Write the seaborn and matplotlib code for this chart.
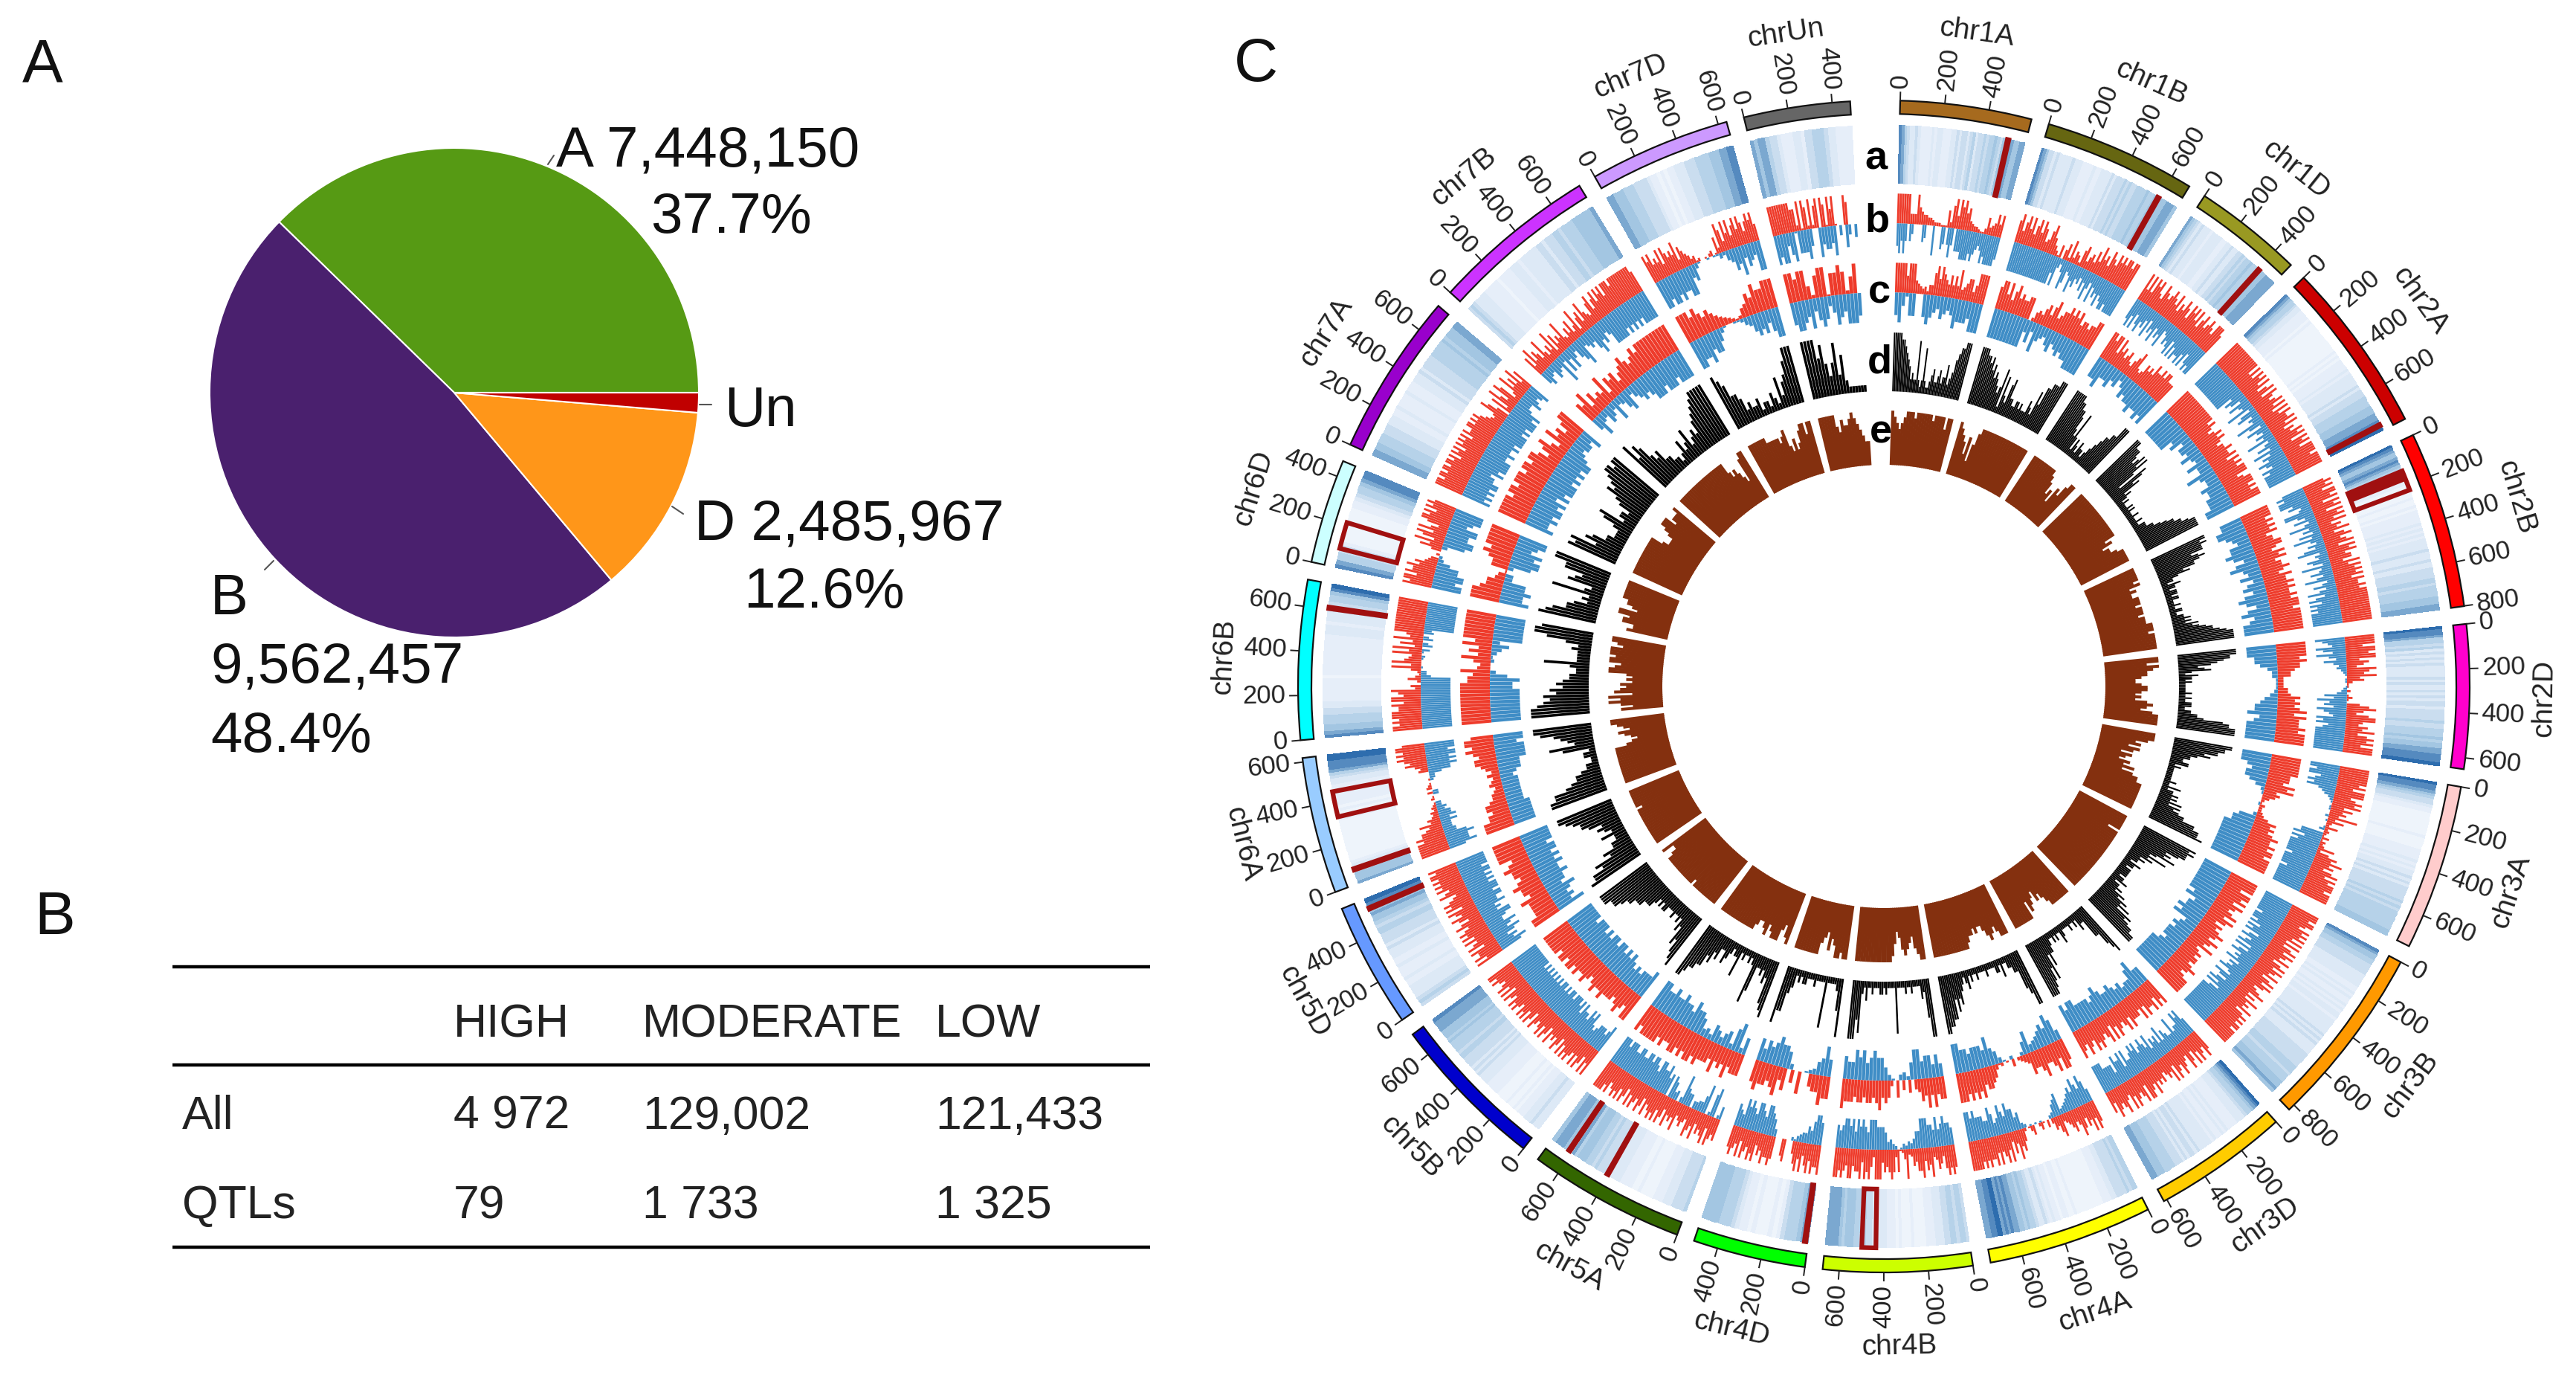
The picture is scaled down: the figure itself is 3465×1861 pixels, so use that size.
import numpy as np
import pandas as pd
import seaborn as sns
import matplotlib.pyplot as plt

W, H = 3465, 1861
CX, CY = 2534, 923

# pie values
PIE_LABELS = ['A', 'B', 'D', 'Un']
PIE_VALUES = [7448150, 9562457, 2485967, 258000]
PIE_COLORS = ['#569A14', '#4A206E', '#FF9619', '#C00000']

# table
TABLE_HEAD = ['HIGH', 'MODERATE', 'LOW']
TABLE_ROWS = ['All', 'QTLs']
TABLE_VALUES = [['4 972', '129,002', '121,433'], ['79', '1 733', '1 325']]

CHROMS = ['chr1A', 'chr1B', 'chr1D', 'chr2A', 'chr2B', 'chr2D', 'chr3A', 'chr3B', 'chr3D', 'chr4A', 'chr4B',
          'chr4D', 'chr5A', 'chr5B', 'chr5D', 'chr6A', 'chr6B', 'chr6D', 'chr7A', 'chr7B', 'chr7D', 'chrUn']
CHROM_MB = [594, 689, 495, 780, 801, 651, 751, 830, 615, 745, 674, 510, 710, 713, 566, 618, 721, 473, 737, 751, 639, 481]
CHROM_COLORS = ['#A66A1E', '#666611', '#999922', '#CC0000', '#FF0000', '#FF00CC', '#FFCCCC', '#FF9900', '#FFCC00',
                '#FFFF00', '#CCFF00', '#00FF00', '#336600', '#0000CC', '#6699FF', '#99CCFF', '#00FFFF', '#CCFFFF',
                '#9900CC', '#CC33FF', '#CC99FF', '#666666']

# highlighted regions, Mb
QTL_CHROM = ['chr1A', 'chr1B', 'chr1D', 'chr2A', 'chr2B', 'chr2B', 'chr4B', 'chr4D', 'chr5A', 'chr5A', 'chr5D',
             'chr6A', 'chr6A', 'chr6B', 'chr6D']
QTL_START = [505, 585, 396, 745, 130, 130, 437, 8, 398, 608, 512, 62, 325, 602, 90]
QTL_END = [519, 599, 410, 759, 225, 172, 503, 22, 412, 622, 526, 76, 445, 616, 215]

# bar height as a share of the ring for each level digit in the b and c rings
LEVEL_SHARE = [0, 0.06, 0.12, 0.19, 0.26, 0.34, 0.44, 0.58, 0.76, 1.0]

TRACK_A = ['8754334322223233222334344345344545565466776677',
           '87644343333343332222322333343444545445555655656667776',
           '76543433323333223343344545565567667777',
           '8765543322221211111111111112121222232333334344455556667778899',
           '9876678765543322111112112122222323232333343334334444554555566677',
           '98875545343434333343433434344344445445556566778889',
           '98876544322111111112111122223232334343444445454555555566',
           '87665544443333322323223232332333333434343333444444555455566676',
           '987655433322223232232333334344343444555566677',
           '55454444332221111111111211221223234334556566778787998877',
           '45545544333222111121112122233343445455666567777',
           '77655542121112122345556666',
           '5444433322211112112222333344445455666575667776',
           '33343332221211211112222233334343444455455556566677778',
           '45433332232223223334344455456676889',
           '76665432111111111111112112122222223345788899',
           '8766555443322222221222222222222333233344455689',
           '87554421111111112234556788',
           '776655544433322322223222333434444555556566677',
           '45433332222212222333233333344344455455556666667',
           '7766655544443221212233344455556667788',
           '76775443222332445554332222']
B_UP = ['999999555976554432221117389698978543321137456868',
        '8968979689798568975316057283652784675869786987989899899',
        '9696989769878987968798698979689789879998',
        '99999999999997979897968969878979697988979687989698979999899999',
        '8989799896989698979687968978969897886979898979889899999999999999',
        '9999799899687598796731102013106897589976879689897999',
        '999999989799978989686759473262321413237268797868979899989999',
        '999899879898979696897987968979879689798678968697879689898998999999',
        '8978979689678978969787687879789969878979679878968',
        '897978689768765487563040142005310268796859798797988989899999',
        '898985786597869886743952184898786999479896988799789899',
        '98897986979860008700089889786989789697898',
        '878969878697896787697879689798987968978979689798987989999',
        '979689797898979689787968979878968979897898978969798789899',
        '979889698797989879868978969898769879898989989',
        '9999998988768564342321021030321010005468789898998',
        '9989899988979978935026312595976596948596799999999999999',
        '98997988978654020586958969758998979898',
        '99989989989989798979898979889989898765698608397598359686958',
        '859687596475938576954758469378597658968979897999899999999998',
        '989787969878795876534120010230173985979689798689897',
        '99999999988391982928909819791000980000']
B_DOWN = ['8979707500007600090008707970888999989876798999998',
          '9999999999999999999979536985697867586975968797899899999',
          '8979689786958796879568789697988979689899',
          '99999999999999968748659378465973864759468596879879899999',
          '898999785699758469574859647589465874956857946857968979898999999',
          '98769869758645321011012358697869876989789999999999',
          '99899789897653210110020100130889798999999899999899999999',
          '999999999899989798968978969689787968789769868979689999999999999',
          '7989776966786968786978987989877969889688889999',
          '68978978765438763200010101023768897897689778889899',
          '7889879788999775342310235478889997898979899878',
          '89986755431200000047899789978989678',
          '6209820975544066793054780879889978998998899889998999',
          '987888767989788979899989989899898989898989999999999',
          '8978689789778997879889989998989899899999',
          '7988898665557576645330003300002336889898998999',
          '99999999999999999999999953301000120140530530549999999999999',
          '9989988632003899889978999',
          '98989899887989999889889899998989998976687678',
          '67547659485864789567689786799999898989899999',
          '9989989889967310010113256879687699',
          '9899689188897009788790508506']
C_UP = ['9999979996543425589798768686956788579999',
        '89979689787788025657868967889898978878899',
        '9989969786786578965687879889899888',
        '99999999999999989878989878898897989899978999898999',
        '999989898978899879897889879889898898999899999999',
        '999998988766333355687878979888989999',
        '99999998887989676421322346878789889899899999',
        '9999799897987897986878987987967878878987899999',
        '9897988979788897987897969878989789789',
        '899798779877854320401021367887989898999',
        '8879797865060507037879878878878889',
        '889776008060869878898',
        '888797879788898998989988989999989',
        '9978987888988987898898998998999999',
        '99888897889878898799999',
        '99988788766546546467887898998',
        '999999999999887965796869799999999',
        '9998775417789899999',
        '9999989989998998998689759786899',
        '87958676948785789878989999999999',
        '99989878765432125687988999',
        '9989962899188982790']
C_DOWN = ['8962880089876876798887999',
          '999999999968597657867878899999',
          '88977867468788988989',
          '9999999785776865866976687788899',
          '88998768898689768578689868978999',
          '99988753311124678897899999',
          '999878875210010027889999999999',
          '999999999897889896787888789999999',
          '7798665767877898788889989',
          '589787654862002013679788878899',
          '686887997243013688987989778',
          '79763210003788987868',
          '7398376467354788978898898899',
          '98887878989899899898999899999',
          '97878978898898989989999',
          '8888887777777678889999899',
          '99999999988973002135749999999',
          '9889884403899897899',
          '98898998979899989898998767768',
          '685476484578467878999899989999',
          '99889788631001124578786899',
          '8998796898579879998']
D_TRACK = ['99999887654232282127211234223423352346788999',
           '99998878675654347163256332233232224326477888999',
           '9999998877643731321322123456677999',
           '99988876786852764523212111212111211121122233456677899999',
           '9989888678766453221322122212211121122112232324345667899999',
           '99988765345213221211111121121122211223347889999',
           '9988775643322331211111111211312232324243455778889',
           '98988875657436342322132212222212231223243546476788999',
           '987552231211211112311212112335375789999',
           '9976332211312211112111121121321235464778899',
           '9962311112112111181111212211121131286999',
           '95211118111121112212134779',
           '98734232268212112152212342243546677899',
           '9875634232232223323234445556678889999',
           '98867453322423435667899',
           '9988654432211221573456899',
           '99987675645433223722223247998',
           '9875542328326547799',
           '87846533222356233245767899899',
           '968754533221242352343567899999',
           '98755423223122132152457999',
           '9999685358362111111']
E_TRACK = ['987678999899999989999799', '9876473689999999999999999999', '99999999998756476899',
           '9999999999999999999978677899999', '99999897877888788878889998999999', '99798776556776565787689999',
           '999867576465465757889999999999', '999999799999999999999999999999999', '9999999987675678699999999',
           '999878987667677899999999999999', '998756787546899999999999999', '99899768567999999999',
           '9867999879877899999999999999', '99999999999899999999999998779', '99999999999999989999999',
           '9999999999999976567867899', '75797958767565699879989997899', '7668879967889999999',
           '99999999999999976667899978889', '999999999999999999999767654899', '99999998888878965756899799',
           '9999997687789876544']

GAP_DEG = 1.75
START_DEG = 1.6
MB_DEG = (356.7 - START_DEG - GAP_DEG * (len(CHROMS) - 1)) / sum(CHROM_MB)


def sector_starts():
    starts = []
    pos = START_DEG
    for mb in CHROM_MB:
        starts.append(pos)
        pos += mb * MB_DEG + GAP_DEG
    return starts


STARTS = sector_starts()


def levels(text):
    return [int(c) for c in text]


def draw_bars(ax, series, base, height, color, fill, shares=None):
    # one radial segment per non empty bin, line width follows the bin size
    if shares is None:
        shares = [v / 9 for v in range(10)]
    for i, text in enumerate(series):
        vals = levels(text)
        span = CHROM_MB[i] * MB_DEG
        rows = []
        for j, v in enumerate(vals):
            if v == 0:
                continue
            th = np.radians(STARTS[i] + (j + 0.5) / len(vals) * span)
            rows.append((th, base, j))
            rows.append((th, base + height * shares[v], j))
        df = pd.DataFrame(rows, columns=['theta', 'r', 'bar'])
        bin_px = (base + height * 0.5) * np.radians(span / len(vals))
        sns.lineplot(data=df, x='theta', y='r', units='bar', estimator=None, sort=False, color=color,
                     linewidth=bin_px * 0.72 * fill, solid_capstyle='butt', legend=False, ax=ax)


sns.set_theme(style='white')
plt.rcParams['font.family'] = ['Liberation Sans', 'DejaVu Sans']

fig = plt.figure(figsize=(W / 100, H / 100), dpi=100, facecolor='white')

# page axes, data units are pixels
page = fig.add_axes([0, 0, 1, 1])
page.set_xlim(0, W)
page.set_ylim(H, 0)
page.axis('off')

for label, x, y in [('A', 30, 88), ('B', 46, 1235), ('C', 1660, 88)]:
    page.text(x, y, label, fontsize=59, va='center', color='#111111')

big = 55
for text, x, y in [('A 7,448,150', 748, 204), ('37.7%', 875, 293), ('Un', 974, 553),
                   ('D 2,485,967', 934, 706), ('12.6%', 1000, 797), ('B', 283, 806),
                   ('9,562,457', 283, 898), ('48.4%', 283, 991)]:
    page.text(x, y, text, fontsize=big, va='center', color='#111111')
for (x0, y0), (x1, y1) in [((737, 221), (745, 209)), ((941, 544), (957, 544)),
                           ((904, 681), (919, 691)), ((368, 754), (356, 766))]:
    page.plot([x0, x1], [y0, y1], color='#555555', lw=1.5)

# table rules and cells
page.hlines([1300, 1432, 1677], 232, 1547, color='black', lw=3.2)
col_x = [610, 864, 1258]
for x, text in zip(col_x, TABLE_HEAD):
    page.text(x, 1378, text, fontsize=45, va='center', color='#222222')
for row_y, name, vals in zip([1501, 1622], TABLE_ROWS, TABLE_VALUES):
    page.text(245, row_y, name, fontsize=45, va='center', color='#222222')
    for x, text in zip(col_x, vals):
        page.text(x, row_y, text, fontsize=45, va='center', color='#222222')

# panel A
ax_pie = fig.add_axes([(611 - 329) / W, 1 - (528 + 329) / H, 658 / W, 658 / H])
ax_pie.pie(PIE_VALUES, colors=PIE_COLORS, startangle=0, radius=1,
           wedgeprops={'edgecolor': 'white', 'linewidth': 1.5})
ax_pie.set_xlim(-1, 1)
ax_pie.set_ylim(-1, 1)

# panel C, radial unit is one pixel
RMAX = 905
ax = fig.add_axes([(CX - RMAX) / W, 1 - (CY + RMAX) / H, 2 * RMAX / W, 2 * RMAX / H], projection='polar')
ax.patch.set_alpha(0)
ax.set_theta_zero_location('N')
ax.set_theta_direction(-1)

heat_cmap = sns.blend_palette(['#F6F9FE', '#DDE9F6', '#A3C6E2', '#2E6DAE'], as_cmap=True)

draw_bars(ax, E_TRACK, 298, 73, '#84300F', 1.25)
draw_bars(ax, D_TRACK, 397, 79, 'black', 0.85)
draw_bars(ax, B_UP, 623, 40, '#EE3B2B', 0.92, LEVEL_SHARE)
draw_bars(ax, B_DOWN, 623, -40, '#3F8DC6', 0.92, LEVEL_SHARE)
draw_bars(ax, C_UP, 530, 40, '#EE3B2B', 0.92, LEVEL_SHARE)
draw_bars(ax, C_DOWN, 530, -40, '#3F8DC6', 0.92, LEVEL_SHARE)

for i, name in enumerate(CHROMS):
    th0 = STARTS[i]
    span = CHROM_MB[i] * MB_DEG
    # heat ring
    vals = levels(TRACK_A[i])
    edges = np.radians(np.linspace(th0, th0 + span, len(vals) + 1))
    ax.pcolormesh(edges, [676, 755], np.array([vals]), cmap=heat_cmap, vmin=0, vmax=9, shading='flat')
    # ideogram
    ax.bar(np.radians(th0 + span / 2), 18, width=np.radians(span), bottom=770, color=CHROM_COLORS[i],
           edgecolor='#111111', linewidth=1.6)
    # ticks every 200 Mb
    for mb in range(0, CHROM_MB[i] + 1, 200):
        deg = th0 + mb * MB_DEG
        ax.plot([np.radians(deg)] * 2, [788, 800], color='#222222', lw=1.4, solid_capstyle='butt')
        right = deg < 180
        ax.text(np.radians(deg), 805, str(mb), fontsize=25, color='#222222', rotation_mode='anchor',
                rotation=90 - deg if right else 270 - deg, ha='left' if right else 'right', va='center')
    # chromosome name follows the arc
    mid = th0 + span / 2
    rot = -mid if (mid < 90 or mid > 270) else 180 - mid
    ax.text(np.radians(mid), 888, name, fontsize=28, color='#222222', rotation=rot, rotation_mode='anchor',
            ha='center', va='center')

# highlighted regions on the heat ring
for name, a, b in zip(QTL_CHROM, QTL_START, QTL_END):
    i = CHROMS.index(name)
    th = STARTS[i] + (a + b) / 2 * MB_DEG
    wide = b - a > 60
    ax.bar(np.radians(th), 79, width=np.radians((b - a) * MB_DEG), bottom=676,
           color='none' if wide else '#A01010', edgecolor='#A01010', linewidth=4.5 if wide else 3)

ax.set_xlabel('')
ax.set_ylabel('')
ax.set_rlim(0, RMAX)
ax.set_axis_off()

for letter, x, y in [('a', 2523, 213), ('b', 2525, 297), ('c', 2528, 393), ('d', 2528, 487), ('e', 2530, 581)]:
    page.text(x, y, letter, fontsize=39, fontweight='bold', ha='center', va='center', color='black', zorder=5)
page.set_zorder(3)
page.patch.set_alpha(0)

fig.savefig('out.png', dpi=100, facecolor='white')
